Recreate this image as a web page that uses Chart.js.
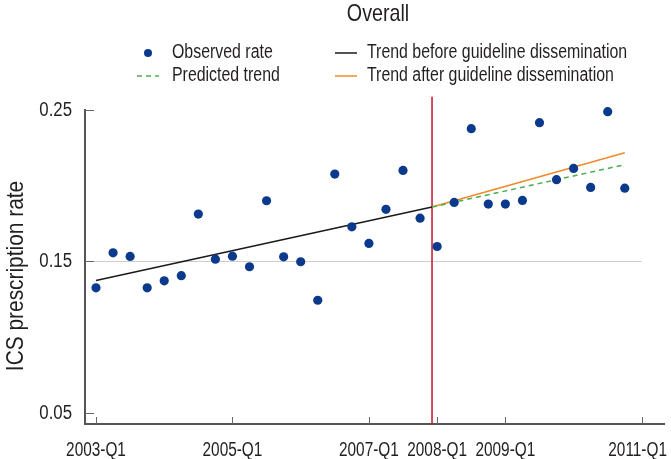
<!DOCTYPE html>
<html>
<head>
<meta charset="utf-8">
<script src="https://cdn.jsdelivr.net/npm/chart.js@4"></script>
<style>
  html, body { margin: 0; padding: 0; background: #fff; }
  #wrap { width: 671px; height: 459px; position: relative; }
</style>
</head>
<body>
<div id="wrap"><canvas id="chart"></canvas></div>
<script>
const FONT = '"Liberation Sans", Arial, sans-serif';
const NARROW = 0.82; // squeeze to look like a condensed face
const X_NARROW = 0.75;

// quarters 2003-Q1 .. 2010-Q4 as index 0..31
const quarterIdx = Array.from({ length: 32 }, (_, i) => i);
const observedRate = [
  0.1326, 0.1557, 0.1533, 0.1326, 0.1372, 0.1406, 0.1813, 0.1515,
  0.1535, 0.1465, 0.1901, 0.1531, 0.1498, 0.1244, 0.2077, 0.1729,
  0.1619, 0.1844, 0.2101, 0.1786, 0.1599, 0.1890, 0.2377, 0.1879,
  0.1879, 0.1903, 0.2416, 0.2040, 0.2114, 0.1989, 0.2489, 0.1984
];

const disseminationAt = 19.7;
const trendBeforeX = [0, disseminationAt];
const trendBeforeY = [0.1374, 0.1859];
const trendAfterX = [disseminationAt, 31];
const trendAfterY = [0.1859, 0.2218];
const predictedX = [disseminationAt, 31];
const predictedY = [0.1859, 0.2139];

const xTickPos = [0, 8, 16, 20, 24, 32];
const xTickLabels = ['2003-Q1', '2005-Q1', '2007-Q1', '2008-Q1', '2009-Q1', '2011-Q1'];
const yTickPos = [0.05, 0.15, 0.25];
const yTickLabels = ['0.05', '0.15', '0.25'];

const refLevel = 0.15;
const xMin = -0.645, xMax = 33.3;
const yMin = 0.0427, yMax = 0.25;
const markerTop = 0.2588;

const toPts = (xs, ys) => xs.map((x, i) => ({ x: x, y: ys[i] }));

function squeezedText(ctx, text, x, y, size, align, sx, rot) {
  ctx.save();
  ctx.translate(x, y);
  if (rot) ctx.rotate(rot);
  ctx.scale(sx, 1);
  ctx.font = size + 'px ' + FONT;
  ctx.textAlign = align;
  ctx.textBaseline = 'middle';
  ctx.fillStyle = '#231f20';
  ctx.fillText(text, 0, 0);
  ctx.restore();
}

const overlay = {
  id: 'overlay',
  afterDraw(chart) {
    const { ctx, chartArea, width } = chart;
    const x = chart.scales.x, y = chart.scales.y;
    ctx.save();
    // inward tick marks
    ctx.strokeStyle = '#666';
    ctx.lineWidth = 1;
    x.ticks.forEach(t => {
      const px = Math.round(x.getPixelForValue(t.value)) + 0.5;
      ctx.beginPath();
      ctx.moveTo(px, chartArea.bottom);
      ctx.lineTo(px, chartArea.bottom - 7);
      ctx.stroke();
    });
    y.ticks.forEach(t => {
      const py = Math.round(y.getPixelForValue(t.value)) + 0.5;
      ctx.beginPath();
      ctx.moveTo(chartArea.left, py);
      ctx.lineTo(chartArea.left + 9, py);
      ctx.stroke();
    });

    // tick labels
    ctx.font = '20.5px ' + FONT;
    x.ticks.forEach(t => {
      const label = xTickLabels[xTickPos.indexOf(t.value)];
      const half = ctx.measureText(label).width * X_NARROW / 2;
      const px = Math.min(x.getPixelForValue(t.value), width - 4 - half);
      squeezedText(ctx, label, px, 450, 20.5, 'center', X_NARROW);
    });
    y.ticks.forEach(t => {
      const label = yTickLabels[yTickPos.indexOf(t.value)];
      squeezedText(ctx, label, chartArea.left - 13, y.getPixelForValue(t.value), 20.5, 'right', NARROW);
    });

    // axis title
    squeezedText(ctx, 'ICS prescription rate', 16, 276, 24, 'center', 0.87, -Math.PI / 2);

    // title
    squeezedText(ctx, 'Overall', 378, 14, 24, 'center', NARROW);

    // legend, two columns
    const ds = chart.data.datasets;
    const items = [
      { d: ds[0], mx: 148, tx: 172, ty: 53 },
      { d: ds[1], mx: 346, tx: 367, ty: 53 },
      { d: ds[3], mx: 148, tx: 172, ty: 76 },
      { d: ds[2], mx: 346, tx: 367, ty: 76 }
    ];
    items.forEach(it => {
      const d = it.d;
      if (d.showLine === false) {
        ctx.fillStyle = d.backgroundColor;
        ctx.beginPath();
        ctx.arc(it.mx, it.ty, 4, 0, Math.PI * 2);
        ctx.fill();
      } else {
        ctx.strokeStyle = d.borderColor;
        ctx.lineWidth = d.borderWidth;
        ctx.setLineDash(d.borderDash || []);
        ctx.beginPath();
        ctx.moveTo(it.mx - 11, it.ty);
        ctx.lineTo(it.mx + 11, it.ty);
        ctx.stroke();
        ctx.setLineDash([]);
      }
      squeezedText(ctx, d.label, it.tx, it.ty, 19.4, 'left', NARROW);
    });
    ctx.restore();
  }
};

new Chart(document.getElementById('chart'), {
  type: 'scatter',
  data: {
    datasets: [
      {
        label: 'Observed rate',
        data: toPts(quarterIdx, observedRate),
        showLine: false,
        backgroundColor: '#0b3a8d',
        borderColor: '#0b3a8d',
        pointRadius: 4.6,
        pointBorderWidth: 0,
        clip: false,
        order: 0
      },
      {
        label: 'Trend before guideline dissemination',
        data: toPts(trendBeforeX, trendBeforeY),
        showLine: true,
        borderColor: '#1a1a1a',
        borderWidth: 1.5,
        pointRadius: 0,
        order: 1
      },
      {
        label: 'Trend after guideline dissemination',
        data: toPts(trendAfterX, trendAfterY),
        showLine: true,
        borderColor: '#ef8a2a',
        borderWidth: 1.5,
        pointRadius: 0,
        order: 2
      },
      {
        label: 'Predicted trend',
        data: toPts(predictedX, predictedY),
        showLine: true,
        borderColor: '#4cae4c',
        borderWidth: 1.5,
        borderDash: [5, 4],
        pointRadius: 0,
        order: 1
      },
      {
        label: 'dissemination',
        data: toPts([disseminationAt, disseminationAt], [yMin, markerTop]),
        showLine: true,
        borderColor: '#c8102e',
        borderWidth: 1.5,
        pointRadius: 0,
        clip: false,
        order: 3
      },
      {
        label: 'reference',
        data: toPts([xMin, xTickPos[xTickPos.length - 1]], [refLevel, refLevel]),
        showLine: true,
        borderColor: '#cccccc',
        borderWidth: 1,
        pointRadius: 0,
        order: 4
      }
    ]
  },
  options: {
    responsive: true,
    maintainAspectRatio: false,
    animation: false,
    layout: { padding: { top: 110, right: 7, left: 0, bottom: 0 } },
    plugins: {
      legend: { display: false },
      tooltip: { enabled: false }
    },
    scales: {
      x: {
        type: 'linear',
        min: xMin,
        max: xMax,
        grid: { display: true, drawOnChartArea: false, drawTicks: false },
        border: { display: true, color: '#555', width: 2 },
        afterBuildTicks: s => { s.ticks = xTickPos.map(v => ({ value: v })); },
        afterFit: s => { s.height = 35; s.paddingLeft = 0; s.paddingRight = 0; },
        ticks: { display: false }
      },
      y: {
        min: yMin,
        max: yMax,
        grid: { display: true, drawOnChartArea: false, drawTicks: false },
        border: { display: true, color: '#555', width: 2 },
        afterBuildTicks: s => { s.ticks = yTickPos.map(v => ({ value: v })); },
        afterFit: s => { s.width = 85; s.paddingTop = 0; s.paddingBottom = 0; },
        ticks: { display: false }
      }
    }
  },
  plugins: [overlay]
});
</script>
</body>
</html>
